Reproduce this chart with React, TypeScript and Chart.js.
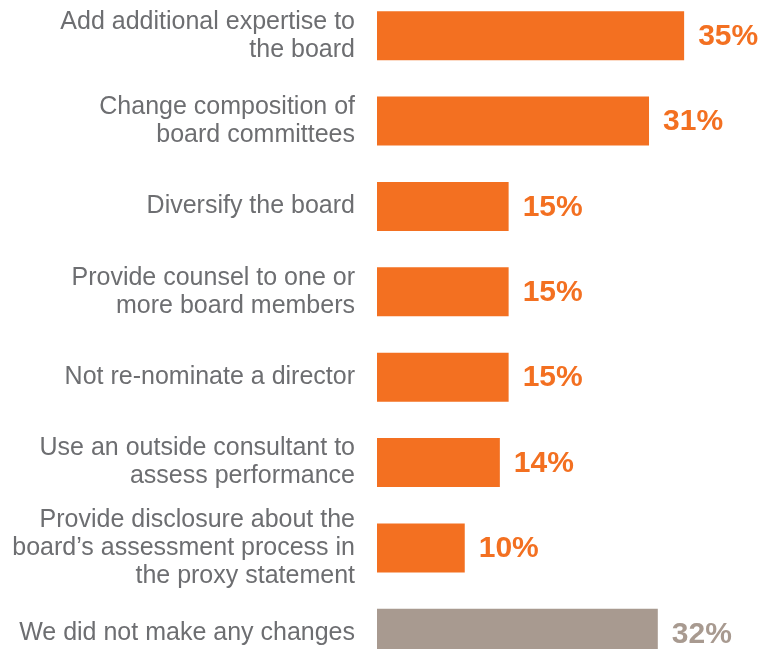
import React, { useEffect, useRef } from "react";
import { Chart, registerables } from "chart.js";

Chart.register(...registerables);

const categories: string[][] = [
  ["Add additional expertise to", "the board"],
  ["Change composition of", "board committees"],
  ["Diversify the board"],
  ["Provide counsel to one or", "more board members"],
  ["Not re-nominate a director"],
  ["Use an outside consultant to", "assess performance"],
  ["Provide disclosure about the", "board\u2019s assessment process in", "the proxy statement"],
  ["We did not make any changes"],
];
const values: number[] = [35, 31, 15, 15, 15, 14, 10, 32];
const barColors: string[] = [
  "#F37021", "#F37021", "#F37021", "#F37021", "#F37021", "#F37021", "#F37021", "#A89A90",
];
const labelColors: string[] = [
  "#F37021", "#F37021", "#F37021", "#F37021", "#F37021", "#F37021", "#F37021", "#A89A90",
];

const FONT = "'Liberation Sans', Arial, Helvetica, sans-serif";

const valueLabelPlugin = {
  id: "valueLabels",
  afterDatasetsDraw(chart: any) {
    const ctx = chart.ctx;
    const meta = chart.getDatasetMeta(0);
    ctx.save();
    ctx.font = `bold 30px ${FONT}`;
    ctx.textAlign = "left";
    ctx.textBaseline = "middle";
    meta.data.forEach((el: any, i: number) => {
      ctx.fillStyle = labelColors[i];
      ctx.fillText(`${values[i]}%`, el.x + 14, el.y + 1);
    });
    ctx.restore();
  },
};

export default function App() {
  const ref = useRef<HTMLCanvasElement | null>(null);
  useEffect(() => {
    if (!ref.current) return;
    const chart = new Chart(ref.current, {
      type: "bar",
      data: {
        labels: categories as any,
        datasets: [
          {
            data: values,
            backgroundColor: barColors,
            borderWidth: 0,
            barPercentage: 0.574,
            categoryPercentage: 1,
          },
        ],
      },
      options: {
        indexAxis: "y",
        animation: false,
        responsive: true,
        maintainAspectRatio: false,
        layout: { padding: { top: 0, bottom: 0, left: 0, right: 32 } },
        plugins: {
          legend: { display: false },
          tooltip: { enabled: false },
          title: { display: false },
        },
        scales: {
          x: { display: false, min: 0, max: 40 },
          y: {
            grid: { display: false },
            border: { display: false },
            ticks: {
              autoSkip: false,
              color: "#6D6E71",
              padding: 14,
              font: { family: FONT, size: 25, lineHeight: 1.12 },
            },
            afterFit(scale: any) {
              scale.width = 377;
              scale.paddingTop = 0;
              scale.paddingBottom = 0;
            },
          },
        },
      },
      plugins: [valueLabelPlugin],
    });
    return () => chart.destroy();
  }, []);
  return (
    <div
      style={{
        position: "fixed",
        left: 0,
        top: -7,
        width: 760,
        height: 683,
        background: "#fff",
      }}
    >
      <canvas ref={ref} />
    </div>
  );
}
